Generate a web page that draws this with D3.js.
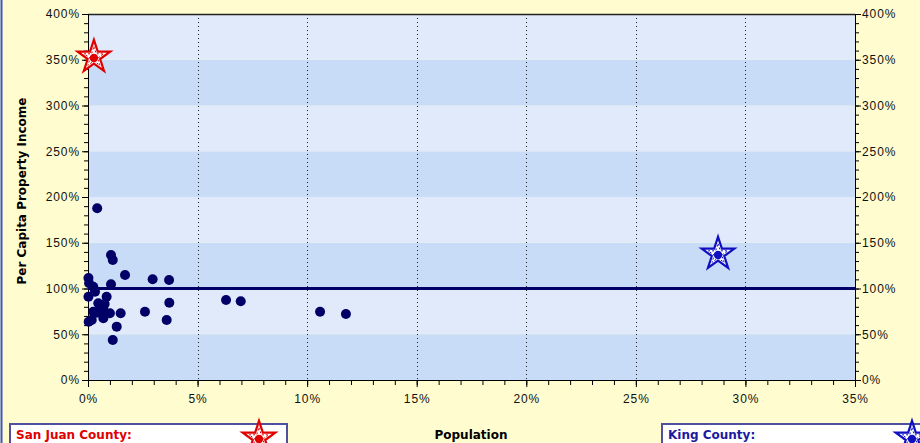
<!DOCTYPE html>
<html>
<head>
<meta charset="utf-8">
<script src="https://cdn.jsdelivr.net/npm/d3@7"></script>
<style>
  body { margin: 0; background: #fffdd0; }
  svg { display: block; }
</style>
</head>
<body>
<div id="chart"></div>
<script>
// County share of state population (%) and per capita property income (% of state)
const popShare = [0.42, 1.05, 1.13, 1.69, 2.95, 3.70, 0.02, 0.05, 1.05, 0.24, 0.02,
    0.32, 0.85, 3.71, 6.30, 6.97, 10.59, 11.77, 0.47, 0.70, 0.24, 1.49, 2.60, 1.00,
    0.17, 0.03, 0.70, 1.31, 3.59, 1.13, 0.55, 0.40, 0.76];
const incomeIdx = [187.7, 136.6, 131.1, 114.8, 110.1, 109.3, 111.5, 105.7, 104.6, 102.0, 91.0,
    96.5, 91.0, 84.5, 87.4, 86.0, 74.6, 72.1, 83.8, 76.5, 74.6, 72.9, 74.6, 72.9,
    65.6, 63.7, 67.4, 58.3, 65.6, 43.7, 78.7, 73.6, 83.1];

// highlighted counties
const highlightNames = ["San Juan County:", "King County:"];
const highlightX = [0.27, 28.75];
const highlightY = [353, 137.7];
const highlightColors = ["#e00000", "#1010c0"];
const highlightText = ["#e00000", "#1a1aa0"];

const xTicks = [0, 5, 10, 15, 20, 25, 30, 35];
const yTicks = [0, 50, 100, 150, 200, 250, 300, 350, 400];
const refLine = 100;

const W = 920, H = 443;
const mleft = 88, mright = 855, mtop = 14, mbottom = 380;

let svg = d3.select("#chart").append("svg")
    .attr("width", W)
    .attr("height", H)
    .style("font-family", "'DejaVu Sans', Verdana, sans-serif");

svg.append("rect").attr("width", W).attr("height", H).attr("fill", "#fffdd0");
svg.append("line").attr("x1", 1.5).attr("x2", 1.5).attr("y1", 0).attr("y2", H)
    .attr("stroke", "#3a55c8").attr("stroke-width", 2);

let x = d3.scaleLinear().domain([0, 35]).range([mleft, mright]);
let y = d3.scaleLinear().domain([0, 400]).range([mbottom, mtop]);

// alternating bands
let bands = d3.range(0, 400, 50);
svg.append("g").selectAll("rect")
    .data(bands)
    .join("rect")
        .attr("x", x(0))
        .attr("width", x(35) - x(0))
        .attr("y", d => y(d + 50))
        .attr("height", d => y(d) - y(d + 50))
        .attr("fill", d => (d / 50) % 2 == 0 ? "#c8dbf7" : "#e0eafa");

// dotted verticals
svg.append("g").selectAll("line")
    .data(xTicks.slice(1, -1))
    .join("line")
        .attr("x1", d => Math.round(x(d)) + 0.5)
        .attr("x2", d => Math.round(x(d)) + 0.5)
        .attr("y1", y(400))
        .attr("y2", y(0))
        .attr("stroke", "#222")
        .attr("stroke-dasharray", "1,3");

// top border
svg.append("line")
    .attr("x1", x(0)).attr("x2", x(35))
    .attr("y1", y(400) + 0.5).attr("y2", y(400) + 0.5)
    .attr("stroke", "#222").attr("stroke-width", 1.5);

// axes
let axisFont = g => g.selectAll("text")
    .attr("font-size", null)
    .style("font-size", "12px")
    .style("letter-spacing", "0.9px")
    .attr("fill", "#111");

let minorY = d3.range(0, 401, 10);
let minorX = d3.range(0, 35.01, 1);

svg.append("g")
    .attr("transform", `translate(${x(0)},0)`)
    .call(d3.axisLeft(y).tickValues(minorY).tickSize(4).tickFormat(""))
    .call(g => g.select(".domain").remove());
svg.append("g")
    .attr("transform", `translate(${x(0)},0)`)
    .call(d3.axisLeft(y).tickValues(yTicks).tickSize(6).tickPadding(2).tickFormat(d => d + "%"))
    .call(axisFont);

svg.append("g")
    .attr("transform", `translate(${x(35)},0)`)
    .call(d3.axisRight(y).tickValues(minorY).tickSize(4).tickFormat(""))
    .call(g => g.select(".domain").remove());
svg.append("g")
    .attr("transform", `translate(${x(35)},0)`)
    .call(d3.axisRight(y).tickValues(yTicks).tickSize(6).tickPadding(1).tickFormat(d => d + "%"))
    .call(axisFont);

svg.append("g")
    .attr("transform", `translate(0,${y(0)})`)
    .call(d3.axisBottom(x).tickValues(minorX).tickSize(5).tickFormat(""))
    .call(g => g.select(".domain").remove());
svg.append("g")
    .attr("transform", `translate(0,${y(0)})`)
    .call(d3.axisBottom(x).tickValues(xTicks).tickSize(7).tickPadding(7).tickFormat(d => d + "%"))
    .call(axisFont);

// reference line
svg.append("line")
    .attr("x1", x(0)).attr("x2", x(35))
    .attr("y1", y(refLine)).attr("y2", y(refLine))
    .attr("stroke", "#000066").attr("stroke-width", 3);

// counties
svg.append("g").selectAll("circle")
    .data(d3.range(popShare.length))
    .join("circle")
        .attr("cx", i => x(popShare[i]))
        .attr("cy", i => y(incomeIdx[i]))
        .attr("r", 5)
        .attr("fill", "#000066");

// highlighted stars
let star = d3.symbol().type(d3.symbolStar).size(330);
function drawStar(g, cx, cy, color) {
    g.append("path").attr("d", star())
        .attr("transform", `translate(${cx},${cy})`)
        .attr("fill", "white").attr("stroke", color).attr("stroke-width", 2.2);
    g.append("path").attr("d", d3.symbol().type(d3.symbolStar).size(120)())
        .attr("transform", `translate(${cx},${cy})`)
        .attr("fill", "none").attr("stroke", color).attr("stroke-width", 1)
        .attr("stroke-dasharray", "2,2");
    g.append("circle").attr("cx", cx).attr("cy", cy + 1).attr("r", 4.2).attr("fill", color);
}
let hl = svg.append("g");
highlightX.forEach((d, i) => drawStar(hl, x(d), y(highlightY[i]), highlightColors[i]));

// axis titles
svg.append("text")
    .attr("transform", `translate(26,${(y(0) + y(400)) / 2 - 6}) rotate(-90)`)
    .attr("text-anchor", "middle")
    .style("font-size", "12px").style("font-weight", "bold")
    .text("Per Capita Property Income");

svg.append("text")
    .attr("x", 471).attr("y", 439)
    .attr("text-anchor", "middle")
    .style("font-size", "12px").style("font-weight", "bold")
    .text("Population");

// legend boxes at bottom
let boxes = [{x0: 10, x1: 287}, {x0: 662, x1: 940}];
boxes.forEach((b, i) => {
    svg.append("rect")
        .attr("x", b.x0).attr("y", 424)
        .attr("width", b.x1 - b.x0).attr("height", 40)
        .attr("fill", "white").attr("stroke", "#5050a0").attr("stroke-width", 2);
    svg.append("text")
        .attr("x", b.x0 + 6).attr("y", 439)
        .attr("fill", highlightText[i])
        .style("font-size", "12px").style("font-weight", "bold")
        .text(highlightNames[i]);
    drawStar(svg, i == 0 ? 259 : 912, 438, highlightColors[i]);
});
</script>
</body>
</html>
